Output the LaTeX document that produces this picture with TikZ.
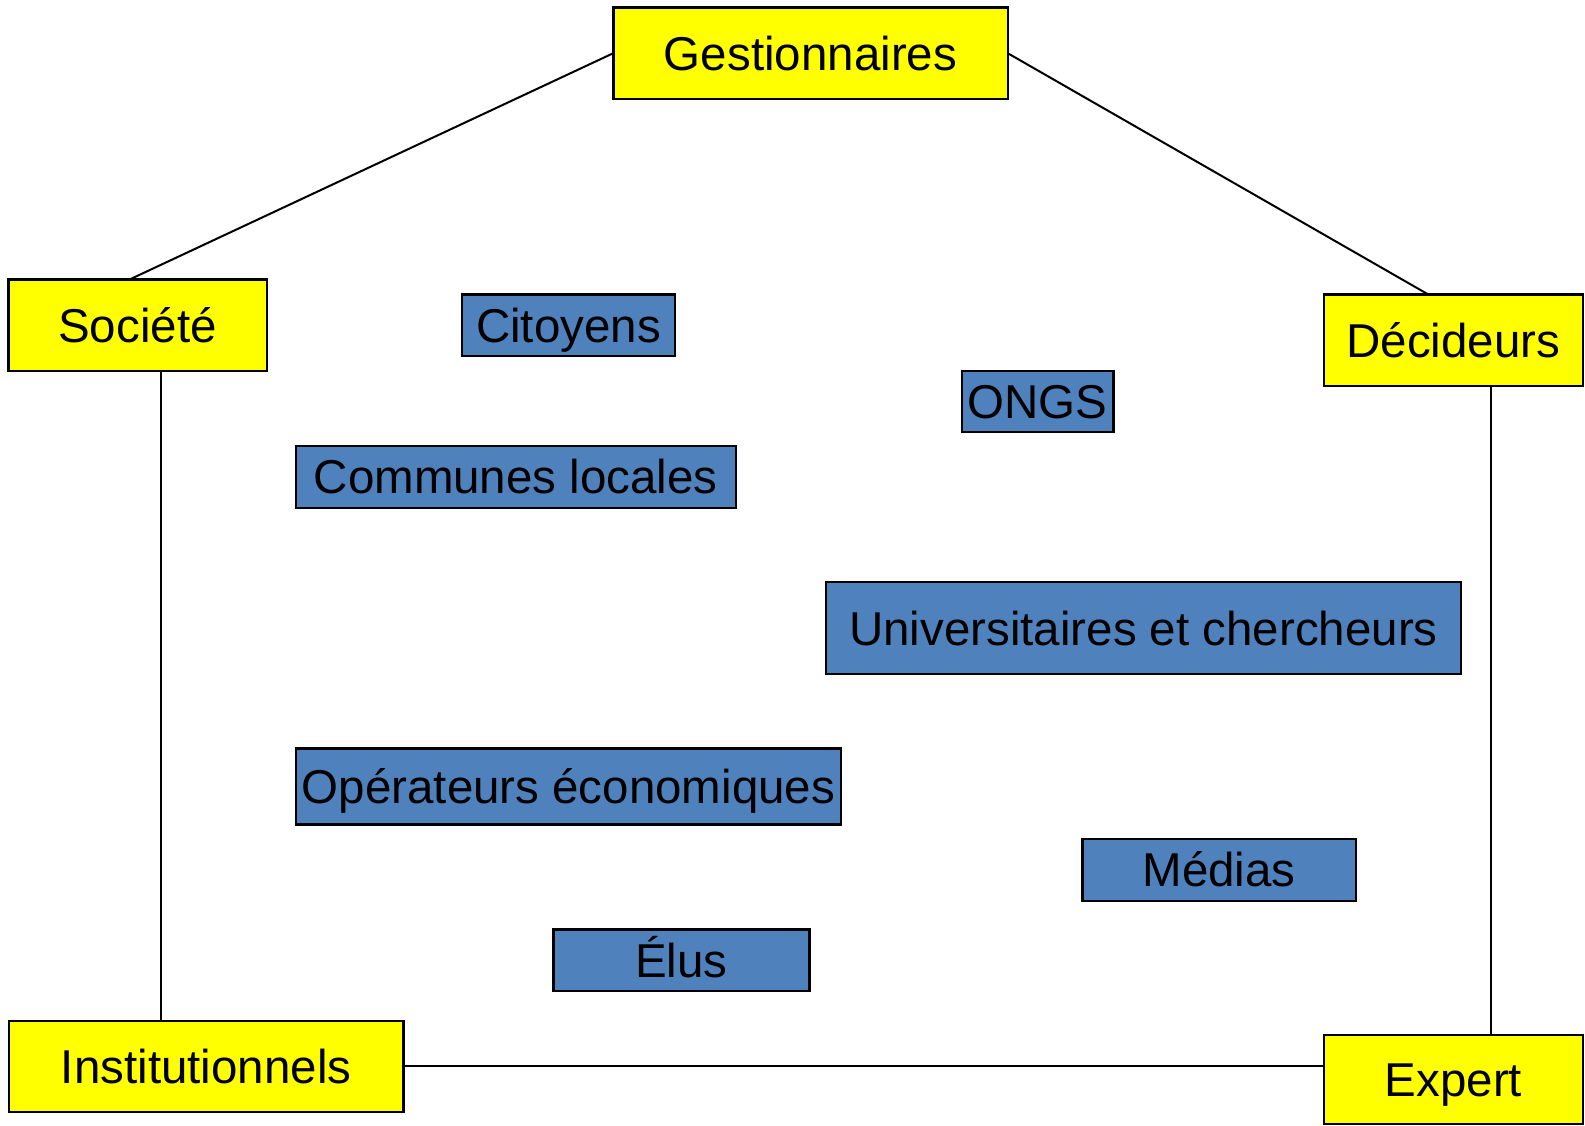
\documentclass[tikz,border=0pt]{standalone}
\usepackage{fontspec}
\setmainfont{Liberation Sans}
\usetikzlibrary{calc}
\definecolor{boxyellow}{RGB}{255,255,0}
\definecolor{boxblue}{RGB}{79,129,189}
\begin{document}
\begin{tikzpicture}[x=1pt,y=-1pt,
  base/.style={draw=black,line width=2.4pt,rectangle,inner sep=0pt,outer sep=0pt,
    font=\fontsize{47.5}{57}\selectfont,text height=34pt,text depth=0pt,align=center},
  yel/.style={base,fill=boxyellow},
  blu/.style={base,fill=boxblue},
  link/.style={line width=2pt,black}]
\useasboundingbox (0,0) rectangle (1585,1126);
% yellow boxes
\node[yel,minimum width=394.4pt,minimum height=91.7pt] (gest) at (810.5,53.2) {Gestionnaires};
\node[yel,minimum width=258.4pt,minimum height=91.4pt] (soc) at (137.5,325) {Société};
\node[yel,minimum width=258.7pt,minimum height=91.7pt] (dec) at (1453.4,340.2) {Décideurs};
\node[yel,minimum width=394.3pt,minimum height=91pt] (inst) at (206.2,1066.2) {Institutionnels};
\node[yel,minimum width=258.7pt,minimum height=89pt] (exp) at (1453.4,1079.7) {Expert};
% blue boxes
\node[blu,minimum width=213.3pt,minimum height=61.7pt] (cit) at (568.4,325.2) {Citoyens};
\node[blu,minimum width=151.6pt,minimum height=61pt] (ong) at (1037.5,401.2) {ONGS};
\node[blu,minimum width=440pt,minimum height=62pt] (com) at (515.7,476.7) {Communes locales};
\node[blu,minimum width=635pt,minimum height=92pt] (uni) at (1143.5,628) {Universitaires et chercheurs};
\node[blu,minimum width=545pt,minimum height=76pt] (ope) at (568.5,786.3) {Opérateurs économiques};
\node[blu,minimum width=273.4pt,minimum height=61.7pt] (med) at (1219,869.9) {Médias};
\node[blu,minimum width=256pt,minimum height=61.7pt] (elu) at (681.3,960.2) {Élus};
% connectors
\coordinate (socTop) at ($(soc.north west)+(121.7,0)$);
\coordinate (decTop) at ($(dec.north west)+(104,0)$);
\coordinate (socBot) at ($(soc.south west)+(152.7,0)$);
\coordinate (decBot) at ($(dec.south west)+(167,0)$);
\draw[link] (gest.west) -- (socTop);
\draw[link] (gest.east) -- (decTop);
\draw[link] (socBot) -- (socBot |- inst.north);
\draw[link] (decBot) -- (decBot |- exp.north);
\draw[link] (inst.east) -- (inst.east -| exp.west);
\end{tikzpicture}
\end{document}
